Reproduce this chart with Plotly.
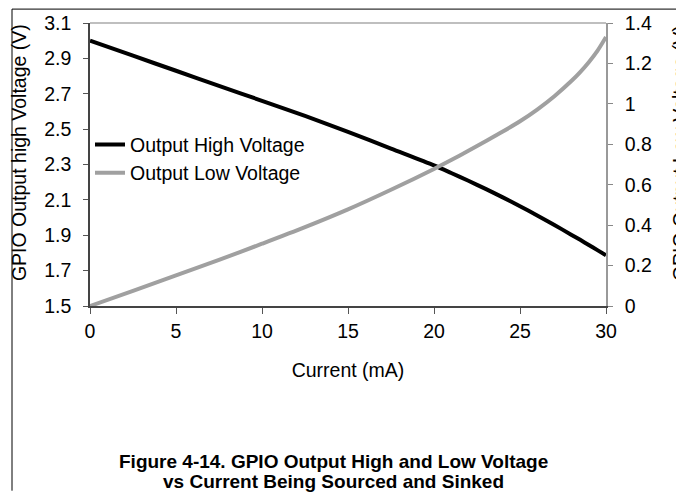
import plotly.graph_objects as go

current_ma = [0, 2.5, 5, 7.5, 10, 12.5, 15, 17.5, 20, 21, 22, 23, 24, 25, 26, 27, 28, 28.5, 29, 29.5, 30]
v_high = [3.00, 2.915, 2.83, 2.745, 2.66, 2.575, 2.485, 2.39, 2.295, 2.252, 2.208, 2.162,
          2.114, 2.064, 2.012, 1.958, 1.902, 1.874, 1.845, 1.816, 1.787]
v_low = [0.0, 0.075, 0.152, 0.228, 0.308, 0.39, 0.478, 0.575, 0.678, 0.722, 0.768, 0.815,
         0.863, 0.914, 0.972, 1.038, 1.114, 1.157, 1.206, 1.262, 1.331]

x_ticks = [0, 5, 10, 15, 20, 25, 30]
yl_ticks = [1.5, 1.7, 1.9, 2.1, 2.3, 2.5, 2.7, 2.9, 3.1]
yr_ticks = [0, 0.2, 0.4, 0.6, 0.8, 1, 1.2, 1.4]

W, H = 676, 492
L, R, T, B = 90, 606, 21, 306
FONT = "Liberation Sans, Arial, sans-serif"
FS = 19.5

def px(xp):
    return (xp - L) / (R - L)

def py(yp):
    return (B - yp) / (B - T)

fig = go.Figure()
fig.add_trace(go.Scatter(x=current_ma, y=v_high, mode="lines", name="Output High Voltage",
                         line=dict(color="#000000", width=4, shape="spline", smoothing=0.8),
                         yaxis="y"))
fig.add_trace(go.Scatter(x=current_ma, y=v_low, mode="lines", name="Output Low Voltage",
                         line=dict(color="#a0a0a0", width=4, shape="spline", smoothing=0.8),
                         yaxis="y2"))

fig.update_layout(
    width=W, height=H,
    margin=dict(l=L, r=W - R, t=T, b=H - B, pad=0),
    paper_bgcolor="white", plot_bgcolor="white",
    font=dict(family=FONT, size=FS, color="#000000"),
    showlegend=True,
    legend=dict(x=0, y=py(124), xanchor="left", yanchor="top",
                bgcolor="rgba(0,0,0,0)", font=dict(size=FS), tracegroupgap=0,
                itemwidth=30),
    xaxis=dict(range=[0, 30], tickvals=x_ticks, ticks="outside", ticklen=6,
               tickcolor="#555555", showline=True, linecolor="#444444", linewidth=1.5,
               showgrid=False, zeroline=False, mirror=False, ticklabelstandoff=1,
               title=dict(text="Current (mA)", font=dict(size=FS), standoff=22),
               tickfont=dict(size=FS)),
    yaxis=dict(range=[1.5, 3.1], tickvals=yl_ticks, ticktext=[f"{v:.1f}" for v in yl_ticks],
               ticks="outside", ticklen=5, tickcolor="#555555", showline=True,
               linecolor="#444444", linewidth=1.5, showgrid=False, zeroline=False,
               ticklabelstandoff=8, tickfont=dict(size=FS), title=None),
    yaxis2=dict(range=[0, 1.4], tickvals=yr_ticks, ticktext=[f"{v:g}" for v in yr_ticks],
                overlaying="y", side="right", ticks="outside", ticklen=5,
                tickcolor="#888888", showline=True, linecolor="#999999", linewidth=1.5,
                showgrid=False, zeroline=False, ticklabelstandoff=8,
                tickfont=dict(size=FS), title=None),
)

shapes = [
    dict(type="line", xref="paper", yref="paper", x0=0, x1=1, y0=1, y1=1,
         line=dict(color="#aaaaaa", width=1.5)),
    dict(type="line", xref="paper", yref="paper", x0=px(12), x1=px(676), y0=py(7), y1=py(7),
         line=dict(color="#000000", width=1)),
    dict(type="line", xref="paper", yref="paper", x0=px(12), x1=px(12), y0=py(7), y1=py(492),
         line=dict(color="#000000", width=1)),
]
fig.update_layout(shapes=shapes)

annotations = [
    dict(text="GPIO Output high Voltage (V)", xref="paper", yref="paper",
         x=px(19), y=py(152), textangle=-90, showarrow=False,
         font=dict(size=FS), xanchor="center", yanchor="middle"),
    dict(text="GPIO Output Low Voltage (V)", xref="paper", yref="paper",
         x=px(680), y=py(152), textangle=-90, showarrow=False,
         font=dict(size=FS), xanchor="center", yanchor="middle"),
    dict(text="<b>Figure 4-14. GPIO Output High and Low Voltage</b>", xref="paper", yref="paper",
         x=px(333), y=py(463), showarrow=False, font=dict(size=19),
         xanchor="center", yanchor="middle"),
    dict(text="<b>vs Current Being Sourced and Sinked</b>", xref="paper", yref="paper",
         x=px(333), y=py(483), showarrow=False, font=dict(size=19),
         xanchor="center", yanchor="middle"),
]
fig.update_layout(annotations=annotations)

fig.write_html("out.html", config={"displayModeBar": False},
               post_script="document.body.style.margin='0';")
